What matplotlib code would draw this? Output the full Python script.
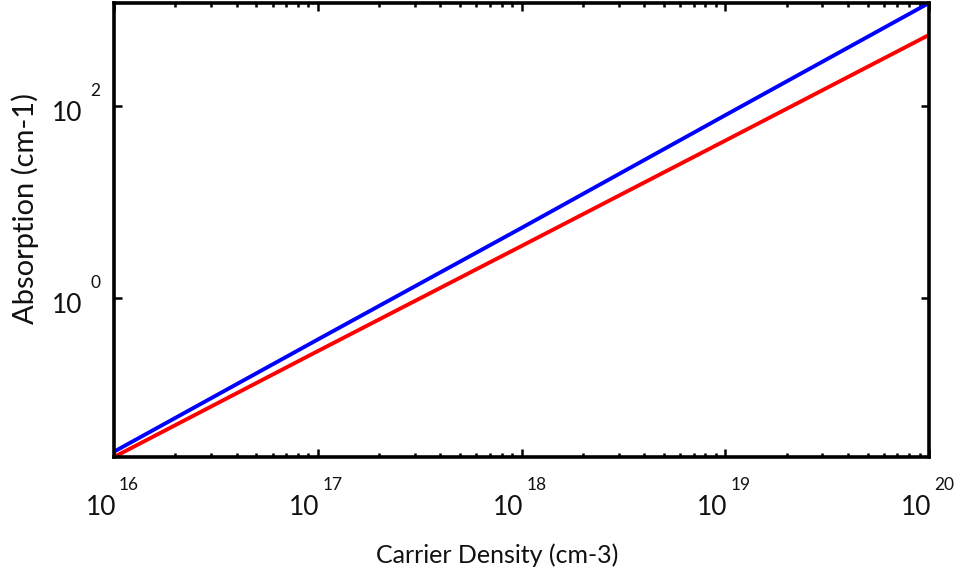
import matplotlib
matplotlib.use("Agg")
import matplotlib.pyplot as plt
from matplotlib.ticker import LogLocator, NullLocator

plt.rcParams['font.family'] = ['Lato', 'DejaVu Sans']

# valores (escala log-log)
densidade = [1e16, 1e17, 1e18, 1e19, 1e20]
absorcao_azul = [0.025, 0.37, 5.4, 81, 1200]
absorcao_vermelha = [0.022, 0.28, 3.5, 44, 557]

decadas_x = [16, 17, 18, 19, 20]
decadas_y = [0, 2]

fig = plt.figure(figsize=(9.59, 5.82), dpi=100)
ax = fig.add_axes([0.1189, 0.2148, 0.8498, 0.78])

ax.plot(densidade, absorcao_azul, color='#0000ff', lw=2.8, solid_capstyle='butt')
ax.plot(densidade, absorcao_vermelha, color='#ff0000', lw=2.8, solid_capstyle='butt')

ax.set_xscale('log')
ax.set_yscale('log')
ax.set_xlim(densidade[0], densidade[-1])
ax.set_ylim(min(absorcao_vermelha), max(absorcao_azul))

ax.set_xticks([10.0 ** e for e in decadas_x])
ax.xaxis.set_minor_locator(LogLocator(base=10, subs=range(2, 10), numticks=20))
ax.set_yticks([10.0 ** e for e in decadas_y])
ax.yaxis.set_minor_locator(NullLocator())

for s in ax.spines.values():
    s.set_linewidth(2.6)

ax.tick_params(which='both', direction='in', top=True, right=True,
               labelbottom=False, labelleft=False, width=1.8)
ax.tick_params(which='major', length=6)
ax.tick_params(which='minor', length=3)

# rótulos dos ticks no estilo "10" + expoente separado
for e in decadas_x:
    ax.annotate('10', xy=(10.0 ** e, 0), xycoords=ax.get_xaxis_transform(),
                xytext=(2, -58), textcoords='offset pixels',
                ha='right', va='baseline', fontsize=19, color='#111111')
    ax.annotate(str(e), xy=(10.0 ** e, 0), xycoords=ax.get_xaxis_transform(),
                xytext=(5, -33), textcoords='offset pixels',
                ha='left', va='baseline', fontsize=12.5, color='#111111')

for e in decadas_y:
    ax.annotate('10', xy=(0, 10.0 ** e), xycoords=ax.get_yaxis_transform(),
                xytext=(-32, -15), textcoords='offset pixels',
                ha='right', va='baseline', fontsize=19, color='#111111')
    ax.annotate(str(e), xy=(0, 10.0 ** e), xycoords=ax.get_yaxis_transform(),
                xytext=(-24, 10), textcoords='offset pixels',
                ha='left', va='baseline', fontsize=12.5, color='#111111')

fig.text(0.518, 0.046, 'Carrier Density (cm-3)', ha='center', va='center',
         fontsize=18, color='#111111')
fig.text(0.026, 0.642, 'Absorption (cm-1)', ha='center', va='center',
         rotation=90, fontsize=21, color='#111111')

fig.savefig('out.png', dpi=100)
